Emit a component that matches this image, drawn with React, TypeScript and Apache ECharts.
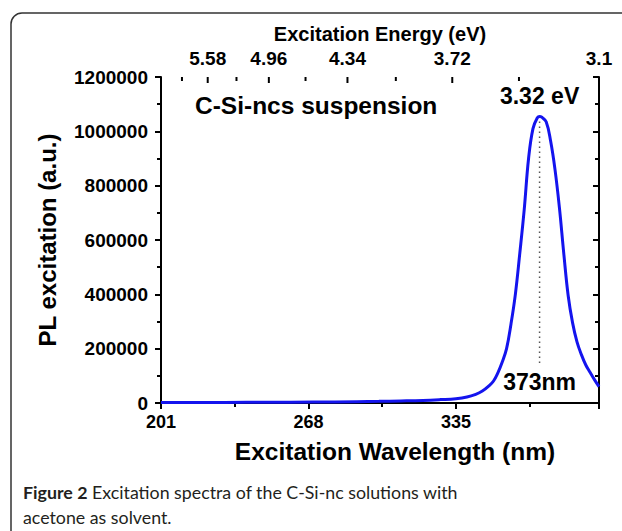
import React, { useEffect, useRef } from "react";
import * as echarts from "echarts";

// Data
const wavelengths = [201, 220, 240, 260, 280, 300, 310, 320, 328, 335, 340, 344, 347, 350, 352, 354, 356, 358, 360, 362, 364, 366, 368, 370, 372, 373, 374, 376, 378, 380, 382, 384, 386, 388, 390, 392, 394, 396, 398, 400];
const intensity = [2000, 2000, 2500, 3000, 4000, 6000, 7500, 9500, 12500, 16000, 22000, 32000, 44000, 63000, 80000, 110000, 150000, 200000, 290000, 400000, 550000, 710000, 900000, 1010000, 1050000, 1055000, 1052000, 1035000, 965000, 860000, 720000, 550000, 395000, 295000, 225000, 178000, 140000, 112000, 85000, 60000];

const peakWavelength = 373;
const peakValue = 1055000;
const dropLineEnd = 134000;
const peakEnergyLabel = "3.32 eV";
const peakWavelengthLabel = "373nm";

const energyMajor = [5.58, 4.96, 4.34, 3.72, 3.1];
const energyMajorLabels = ["5.58", "4.96", "4.34", "3.72", "3.1"];
const energyMinor = [5.89, 5.27, 4.65, 4.03, 3.41];
const HC = 1240; // eV·nm conversion

const xMin = 201;
const xMax = 400;
const xInterval = 67;
const yMin = 0;
const yMax = 1200000;
const yInterval = 200000;

const FONT = "'Liberation Sans', Arial, Helvetica, sans-serif";
const CAPTION_FONT = "Lato, 'Open Sans', sans-serif";

export default function App() {
  const ref = useRef<HTMLDivElement>(null);

  useEffect(() => {
    if (!ref.current) return;
    const chart = echarts.init(ref.current, null, { renderer: "svg" });

    const majorPos = energyMajor.map((e) => HC / e);
    const minorPos = energyMinor.map((e) => HC / e);

    const axisLine = { show: true, lineStyle: { color: "#000", width: 2 } };

    const topTickSeries = (positions: number[], len: number) => ({
      type: "custom",
      xAxisIndex: 0,
      yAxisIndex: 0,
      clip: false,
      silent: true,
      data: positions.map((p) => [p, yMax]),
      renderItem: (_params: any, api: any) => {
        const pt = api.coord([api.value(0), api.value(1)]);
        return {
          type: "line",
          shape: { x1: pt[0], y1: pt[1], x2: pt[0], y2: pt[1] + len },
          style: { stroke: "#000", lineWidth: 2 },
        };
      },
      z: 4,
    });

    chart.setOption({
      animation: false,
      backgroundColor: "#fff",
      grid: { left: 161, top: 77, width: 438, height: 326, containLabel: false },
      xAxis: [
        {
          type: "value",
          position: "bottom",
          min: xMin,
          max: xMax,
          interval: xInterval,
          axisLine,
          axisTick: { show: true, inside: false, length: 6, lineStyle: { color: "#000", width: 2 } },
          minorTick: { show: true, splitNumber: 2, length: 4, lineStyle: { color: "#000", width: 2 } },
          splitLine: { show: false },
          minorSplitLine: { show: false },
          axisLabel: { fontSize: 18, fontWeight: "bold", color: "#000", fontFamily: FONT, margin: 10, showMaxLabel: false, formatter: (v: number) => String(v) },
          name: "Excitation Wavelength (nm)",
          nameLocation: "middle",
          nameGap: 36,
          nameTextStyle: { fontSize: 24.5, fontWeight: "bold", color: "#000", fontFamily: FONT, padding: [0, 0, 0, 30] },
        },
        {
          type: "value",
          position: "top",
          min: xMin,
          max: xMax,
          axisLine,
          axisTick: { show: false },
          splitLine: { show: false },
          axisLabel: {
            show: true,
            customValues: majorPos,
            fontSize: 19,
            fontWeight: "bold",
            color: "#000",
            fontFamily: FONT,
            margin: 9,
            formatter: (v: number) => {
              let best = 0;
              let bd = Infinity;
              majorPos.forEach((p, i) => {
                const d = Math.abs(p - v);
                if (d < bd) { bd = d; best = i; }
              });
              return energyMajorLabels[best];
            },
          },
          name: "Excitation Energy (eV)",
          nameLocation: "middle",
          nameGap: 27,
          nameTextStyle: { fontSize: 20, fontWeight: "bold", color: "#000", fontFamily: FONT },
        },
      ],
      yAxis: [
        {
          type: "value",
          position: "left",
          min: yMin,
          max: yMax,
          interval: yInterval,
          axisLine,
          axisTick: { show: true, inside: false, length: 6, lineStyle: { color: "#000", width: 2 } },
          minorTick: { show: true, splitNumber: 2, length: 4, lineStyle: { color: "#000", width: 2 } },
          splitLine: { show: false },
          minorSplitLine: { show: false },
          axisLabel: { fontSize: 19, fontWeight: "bold", color: "#000", fontFamily: FONT, margin: 13, formatter: (v: number) => String(v) },
          name: "PL excitation (a.u.)",
          nameLocation: "middle",
          nameRotate: 90,
          nameGap: 102,
          nameTextStyle: { fontSize: 24, fontWeight: "bold", color: "#000", fontFamily: FONT },
        },
        {
          type: "value",
          position: "right",
          min: yMin,
          max: yMax,
          interval: yInterval,
          axisLine,
          axisTick: { show: true, inside: true, length: 6, lineStyle: { color: "#000", width: 2 } },
          minorTick: { show: true, splitNumber: 2, length: 4, lineStyle: { color: "#000", width: 2 } },
          splitLine: { show: false },
          minorSplitLine: { show: false },
          axisLabel: { show: false },
        },
      ],
      series: [
        {
          type: "line",
          xAxisIndex: 0,
          yAxisIndex: 0,
          data: wavelengths.map((w, i) => [w, intensity[i]]),
          smooth: 0.4,
          showSymbol: false,
          lineStyle: { color: "#1414ee", width: 3 },
          itemStyle: { color: "#1414ee" },
          z: 3,
        },
        {
          type: "line",
          xAxisIndex: 0,
          yAxisIndex: 0,
          data: [
            {
              value: [peakWavelength, peakValue],
              label: { show: true, position: "top", distance: 9, formatter: peakEnergyLabel },
            },
            {
              value: [peakWavelength, dropLineEnd],
              label: { show: true, position: "bottom", distance: 4, formatter: peakWavelengthLabel },
            },
          ],
          showSymbol: true,
          symbol: "circle",
          symbolSize: 0.1,
          itemStyle: { color: "rgba(0,0,0,0)" },
          lineStyle: { color: "#555", width: 1.5, type: [1.5, 3.5] },
          label: { fontSize: 23, fontWeight: "bold", color: "#000", fontFamily: FONT },
          z: 2,
        },
        topTickSeries(majorPos, 6),
        topTickSeries(minorPos, 4),
      ],
      graphic: [
        {
          type: "rect",
          silent: true,
          shape: { x: 11, y: 13, width: 720, height: 640, r: 11 },
          style: { fill: "none", stroke: "#333", lineWidth: 1.5 },
          z: -1,
        },
        {
          type: "text",
          x: 195,
          y: 105,
          style: {
            text: "C-Si-ncs suspension",
            fontSize: 24.5,
            fontWeight: "bold",
            fill: "#000",
            fontFamily: FONT,
            align: "left",
            verticalAlign: "middle",
          },
        },
        {
          type: "text",
          x: 23,
          y: 492,
          style: {
            text: "{b|Figure 2} Excitation spectra of the C-Si-nc solutions with",
            fontSize: 17.8,
            fill: "#231f20",
            fontFamily: CAPTION_FONT,
            align: "left",
            verticalAlign: "middle",
            rich: {
              b: { fontSize: 17.8, fontWeight: "bold", fill: "#231f20", fontFamily: CAPTION_FONT },
            },
          },
        },
        {
          type: "text",
          x: 23,
          y: 517,
          style: {
            text: "acetone as solvent.",
            fontSize: 17.8,
            fill: "#231f20",
            fontFamily: CAPTION_FONT,
            align: "left",
            verticalAlign: "middle",
          },
        },
      ],
    });

    return () => chart.dispose();
  }, []);

  return (
    <div
      ref={ref}
      style={{ position: "fixed", left: 0, top: 0, width: 622, height: 531, background: "#fff" }}
    />
  );
}
